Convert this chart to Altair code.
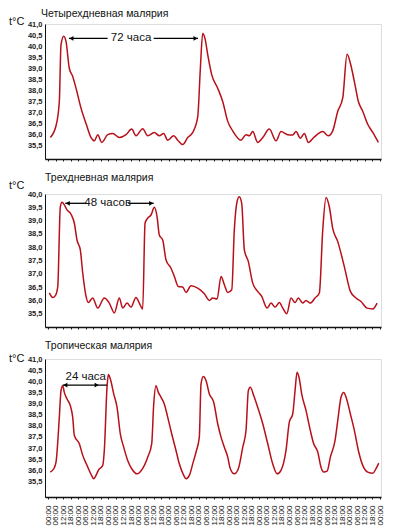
import altair as alt
import pandas as pd

# ---------------- data ----------------
time_labels = [
    "00:00", "06:00", "12:00", "18:00", "00:00", "06:00", "12:00", "18:00",
    "00:00", "06:00", "12:00", "18:00", "00:00", "06:00", "12:00", "18:00",
    "00:00", "06:00", "12:00", "18:00", "00:00", "06:00", "12:00", "18:00",
    "00:00", "06:00", "12:00", "18:00", "00:00", "06:00", "12:00", "18:00",
    "00:00", "06:00", "12:00", "18:00", "00:00", "06:00", "12:00", "18:00",
    "00:00", "06:00", "12:00", "18:00", "00:00",
]

titles = ["Четырехдневная малярия", "Трехдневная малярия", "Тропическая малярия"]
unit_label = "t°C"

# Quartan malaria (position along time axis in label steps, temperature °C)
t1 = [0.30, 1.06, 1.50, 1.72, 2.08, 2.39, 2.82, 3.27, 3.71, 4.37, 5.04, 5.70, 6.14, 6.59,
      7.12, 7.91, 8.58, 9.45, 10.34, 11.09, 11.66, 12.55, 13.21, 14.09, 14.75, 15.33,
      15.86, 16.66, 17.19, 17.85, 18.52, 19.18, 19.84, 20.19, 20.50, 20.81, 21.17, 21.70,
      22.49, 23.15, 23.82, 24.48, 25.58, 26.24, 26.68, 27.13, 27.79, 28.46, 29.33, 30.22,
      30.88, 31.77, 32.43, 32.87, 33.44, 33.97, 34.50, 35.30, 36.41, 37.15, 37.73, 38.40,
      39.06, 39.63, 40.07, 40.60, 41.13, 41.71, 42.37, 43.04, 43.78]
v1 = [35.87, 36.40, 37.50, 40.06, 40.45, 40.20, 39.00, 38.63, 38.10, 37.20, 36.50, 35.87,
      35.72, 36.00, 35.65, 36.00, 36.05, 35.87, 36.00, 36.25, 35.95, 36.27, 35.95, 36.10,
      35.95, 36.05, 35.75, 35.95, 35.75, 35.55, 35.87, 36.10, 36.80, 39.00, 40.57, 40.34,
      39.60, 38.70, 38.10, 37.50, 36.60, 36.17, 35.75, 36.00, 35.95, 36.14, 35.65, 35.87,
      36.25, 35.72, 36.14, 36.00, 35.99, 36.14, 35.84, 36.05, 35.65, 35.90, 36.14, 35.95,
      36.17, 37.06, 37.66, 39.63, 39.23, 38.40, 37.50, 37.06, 36.47, 36.10, 35.65]

# Tertian malaria
t2 = [0.17, 0.62, 0.97, 1.29, 1.63, 1.86, 2.16, 2.52, 3.05, 3.49, 3.84, 4.28, 4.60, 5.04,
      5.34, 5.92, 6.59, 7.46, 8.12, 8.79, 9.45, 9.90, 10.47, 11.00, 11.66, 12.10, 12.55,
      12.86, 13.21, 13.65, 14.09, 14.45, 14.75, 15.20, 15.64, 16.30, 16.74, 17.27, 17.85,
      18.29, 18.95, 19.84, 20.72, 21.38, 21.83, 22.40, 22.93, 23.37, 23.82, 24.35, 24.69,
      25.05, 25.35, 25.67, 26.02, 26.55, 27.13, 27.79, 28.32, 29.03, 29.56, 30.09, 30.66,
      31.11, 31.64, 32.21, 32.74, 33.17, 33.76, 34.19, 34.76, 35.39, 35.96, 36.41, 36.85,
      37.28, 37.73, 38.40, 39.27, 40.07, 40.82, 41.48, 42.28, 43.04, 43.61]
v2 = [36.28, 36.11, 36.18, 36.52, 39.52, 39.69, 39.59, 39.40, 39.24, 38.90, 38.27, 37.90,
      37.03, 36.15, 35.92, 36.09, 35.71, 36.09, 35.90, 35.53, 36.09, 35.71, 35.90, 35.75,
      36.11, 35.90, 35.68, 38.90, 39.09, 39.21, 39.50, 39.15, 38.46, 38.27, 37.52, 37.21,
      36.90, 36.52, 36.50, 36.30, 36.55, 36.46, 36.25, 36.00, 36.09, 36.05, 36.90, 36.59,
      36.30, 36.40, 38.65, 39.71, 39.90, 39.65, 37.90, 37.46, 36.65, 36.34, 36.15, 35.71,
      35.90, 35.75, 35.92, 35.71, 35.50, 36.09, 35.92, 36.09, 35.90, 36.00, 35.90, 36.09,
      36.28, 38.65, 39.87, 39.52, 38.71, 38.21, 37.27, 36.34, 36.09, 35.96, 35.71, 35.68,
      35.90]

# Tropical malaria
t3 = [0.30, 0.76, 1.06, 1.50, 1.72, 1.95, 2.16, 2.52, 2.96, 3.27, 3.49, 4.15, 4.60, 5.17,
      5.70, 6.06, 6.36, 6.67, 7.25, 7.46, 7.82, 7.99, 8.26, 8.71, 9.15, 9.58, 10.03, 10.56,
      11.09, 11.80, 12.42, 13.21, 13.74, 14.01, 14.31, 14.62, 14.98, 15.41, 15.86, 16.39,
      16.96, 17.40, 17.99, 18.29, 18.73, 19.18, 19.62, 20.05, 20.28, 20.58, 20.94, 21.38,
      21.96, 22.49, 22.93, 23.37, 23.82, 24.16, 24.69, 25.22, 25.81, 26.24, 26.55, 26.81,
      27.26, 27.79, 28.46, 29.12, 29.78, 30.35, 30.88, 31.54, 31.98, 32.43, 32.74, 33.00,
      33.31, 33.62, 34.19, 34.76, 35.21, 35.75, 36.18, 36.54, 36.98, 37.42, 38.04, 38.40,
      38.83, 39.19, 39.50, 40.07, 40.60, 41.13, 41.71, 42.37, 43.04, 43.47, 43.83]
v3 = [35.92, 36.07, 36.37, 38.39, 39.58, 39.80, 39.50, 39.20, 38.90, 38.39, 37.56, 37.19,
      36.67, 36.22, 35.82, 35.62, 35.77, 36.00, 36.22, 36.89, 39.73, 40.30, 40.10, 39.43,
      38.83, 37.64, 37.04, 36.44, 36.07, 35.84, 36.02, 36.59, 37.19, 38.98, 39.80, 39.50,
      39.28, 38.98, 38.39, 37.64, 36.89, 36.29, 35.77, 35.62, 35.77, 36.29, 36.82, 37.49,
      39.88, 40.21, 40.03, 39.43, 39.06, 38.09, 37.49, 37.04, 36.59, 36.07, 35.84, 36.07,
      37.04, 37.79, 39.58, 39.73, 39.36, 38.83, 38.09, 37.19, 36.29, 35.84, 36.00, 36.89,
      38.16, 38.53, 39.58, 40.40, 40.10, 39.43, 38.69, 37.79, 37.19, 36.82, 36.14, 35.92,
      35.96, 36.59, 37.34, 38.24, 39.28, 39.50, 39.28, 38.53, 37.79, 36.89, 36.22, 35.92,
      35.87, 36.07, 36.32]

# Interval annotations: text, text position, arrow level, arrow segments, arrowhead positions
ann_text = ["72 часа", "48 часов", "24 часа"]
ann_text_t = [11.0, 7.91, 5.0]
ann_text_v = [40.35, 39.65, 40.21]
ann_level = [40.35, 39.65, 39.83]
ann_seg_start = [[2.78, 14.0], [2.29, 10.64], [1.95]]
ann_seg_end = [[7.9, 19.88], [5.17, 14.01], [7.82]]
ann_head_left = [3.1, 2.62, 2.3]
ann_head_right = [19.55, 13.68, 6.45]

y_domains = [[34.9, 41.0], [35.0, 40.0], [34.8, 41.0]]
y_ticks = [
    [35.5, 36.0, 36.5, 37.0, 37.5, 38.0, 38.5, 39.0, 39.5, 40.0, 40.5, 41.0],
    [35.5, 36.0, 36.5, 37.0, 37.5, 38.0, 38.5, 39.0, 39.5, 40.0],
    [35.5, 36.0, 36.5, 37.0, 37.5, 38.0, 38.5, 39.0, 39.5, 40.0, 40.5, 41.0],
]

# ---------------- styling ----------------
LINE_COLOR = "#b8101a"
FONT = "Liberation Sans"
X_DOMAIN = [-0.4, 44.13]
W = 336
heights = [135, 133, 138]
title_y = [-10, -16, -13]
title_x = [-4, 0, 0]
unit_y = [-2, -8, 0]

label_expr_x = "[" + ",".join("'%s'" % s for s in time_labels) + "][datum.value]"
label_expr_y = "replace(format(datum.value, '.1f'), '.', ',')"


def panel(i, t, v, show_x_labels):
    xscale = alt.Scale(domain=X_DOMAIN, nice=False, zero=False)
    yscale = alt.Scale(domain=y_domains[i], nice=False, zero=False)
    xaxis = alt.Axis(
        values=list(range(len(time_labels))),
        labels=show_x_labels,
        labelExpr=label_expr_x,
        labelAngle=270,
        labelFontSize=8,
        labelPadding=6,
        labelColor="#111",
        labelFont=FONT,
        labelOverlap=False,
        labelFlush=False,
        labelBound=False,
        tickSize=2,
        tickColor="#222",
        domain=True,
        domainColor="#111",
        domainWidth=1.3,
        grid=False,
        title=None,
    )
    yaxis = alt.Axis(
        values=y_ticks[i],
        labelExpr=label_expr_y,
        labelFontSize=7.5,
        labelFontWeight="bold",
        labelColor="#222",
        labelFont=FONT,
        labelPadding=3,
        labelOverlap=False,
        labelFlush=False,
        labelBound=False,
        ticks=False,
        domain=True,
        domainColor="#111",
        domainWidth=1,
        grid=False,
        title=None,
    )

    def X(f):
        return alt.X(f, scale=xscale, axis=xaxis)

    def Y(f):
        return alt.Y(f, scale=yscale, axis=yaxis)

    df = pd.DataFrame({"t": t, "v": v})
    line = alt.Chart(df).mark_line(
        color=LINE_COLOR, strokeWidth=1.5, interpolate="monotone"
    ).encode(x=X("t:Q"), y=Y("v:Q"))

    seg = pd.DataFrame({
        "t": ann_seg_start[i],
        "t2": ann_seg_end[i],
        "v": [ann_level[i]] * len(ann_seg_start[i]),
    })
    rules = alt.Chart(seg).mark_rule(color="black", strokeWidth=1.3).encode(
        x=X("t:Q"), x2="t2:Q", y=Y("v:Q")
    )
    heads = pd.DataFrame({
        "t": [ann_head_left[i], ann_head_right[i]],
        "v": [ann_level[i], ann_level[i]],
        "shape": ["triangle-left", "triangle-right"],
    })
    arrow = alt.Chart(heads).mark_point(filled=True, color="black", size=22, opacity=1).encode(
        x=X("t:Q"),
        y=Y("v:Q"),
        shape=alt.Shape("shape:N", scale=None, legend=None),
    )
    lab = pd.DataFrame({"t": [ann_text_t[i]], "v": [ann_text_v[i]], "txt": [ann_text[i]]})
    label = alt.Chart(lab).mark_text(
        font=FONT, fontSize=11.5, color="#111", baseline="middle"
    ).encode(x=X("t:Q"), y=Y("v:Q"), text="txt:N")

    ttl = alt.Chart(pd.DataFrame({"txt": [titles[i]]})).mark_text(
        font=FONT, fontSize=10.5, color="#111", align="left", baseline="middle"
    ).encode(x=alt.value(title_x[i]), y=alt.value(title_y[i]), text="txt:N")
    unit = alt.Chart(pd.DataFrame({"txt": [unit_label]})).mark_text(
        font=FONT, fontSize=11, color="#111", align="left", baseline="middle"
    ).encode(x=alt.value(-36), y=alt.value(unit_y[i]), text="txt:N")

    return alt.layer(line, rules, arrow, label, ttl, unit).properties(width=W, height=heights[i])


chart = alt.vconcat(
    panel(0, t1, v1, False),
    panel(1, t2, v2, False),
    panel(2, t3, v3, True),
    spacing=10,
).properties(
    padding={"left": 0, "top": 0, "right": 0, "bottom": 0}
).configure_view(stroke=None).configure(font=FONT)

chart.save("out.html", embed_options={"renderer": "svg", "actions": False})
